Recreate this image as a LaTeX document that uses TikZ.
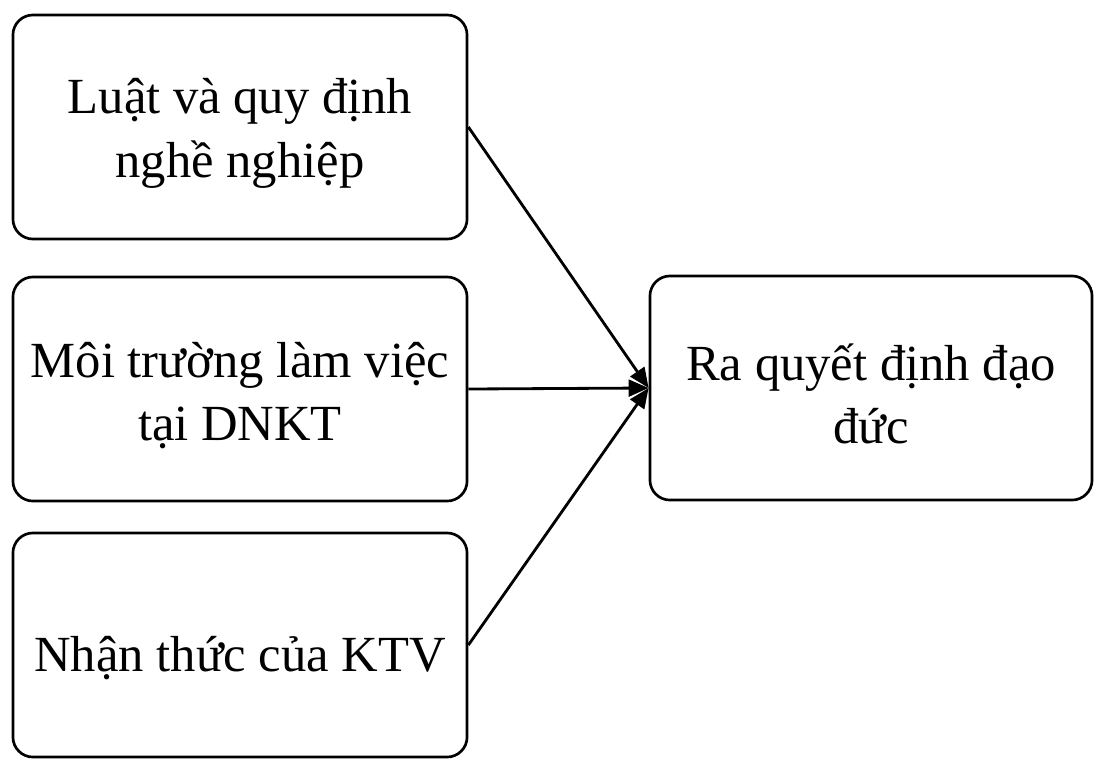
\documentclass[tikz,border=0pt]{standalone}
\usepackage{fontspec}
\setmainfont{Liberation Serif}
\usetikzlibrary{arrows.meta}
\newcommand{\toppad}[1]{\rule{0pt}{#1}}

\begin{document}
\begin{tikzpicture}[x=0.025cm, y=-0.025cm,
  box/.style={rectangle, draw, line width=1.9pt, rounded corners=0.5cm, fill=white,
    minimum width=11.35cm, minimum height=5.6cm, align=center,
    font=\fontsize{36}{45}\selectfont},
  link/.style={line width=2pt, -{Triangle[length=0.5cm, width=0.42cm]}}]
  \useasboundingbox (0,0) rectangle (1095,758);
  % Draw nodes
  \node[box] (law) at (240, 127) {\toppad{1.2cm}Luật và quy định\\nghề nghiệp};
  \node[box] (env) at (240, 389) {\toppad{1.2cm}Môi trường làm việc\\tại DNKT};
  \node[box] (aware) at (240, 645) {\toppad{1.55cm}Nhận thức của KTV};
  \node[box, minimum width=11.05cm] (dec) at (871, 388) {\toppad{1.2cm}Ra quyết định đạo\\đức};

  % Draw edges
  \draw[link] (law.east) -- (dec.west);
  \draw[link] (env.east) -- (dec.west);
  \draw[link] (aware.east) -- (dec.west);
\end{tikzpicture}
\end{document}
